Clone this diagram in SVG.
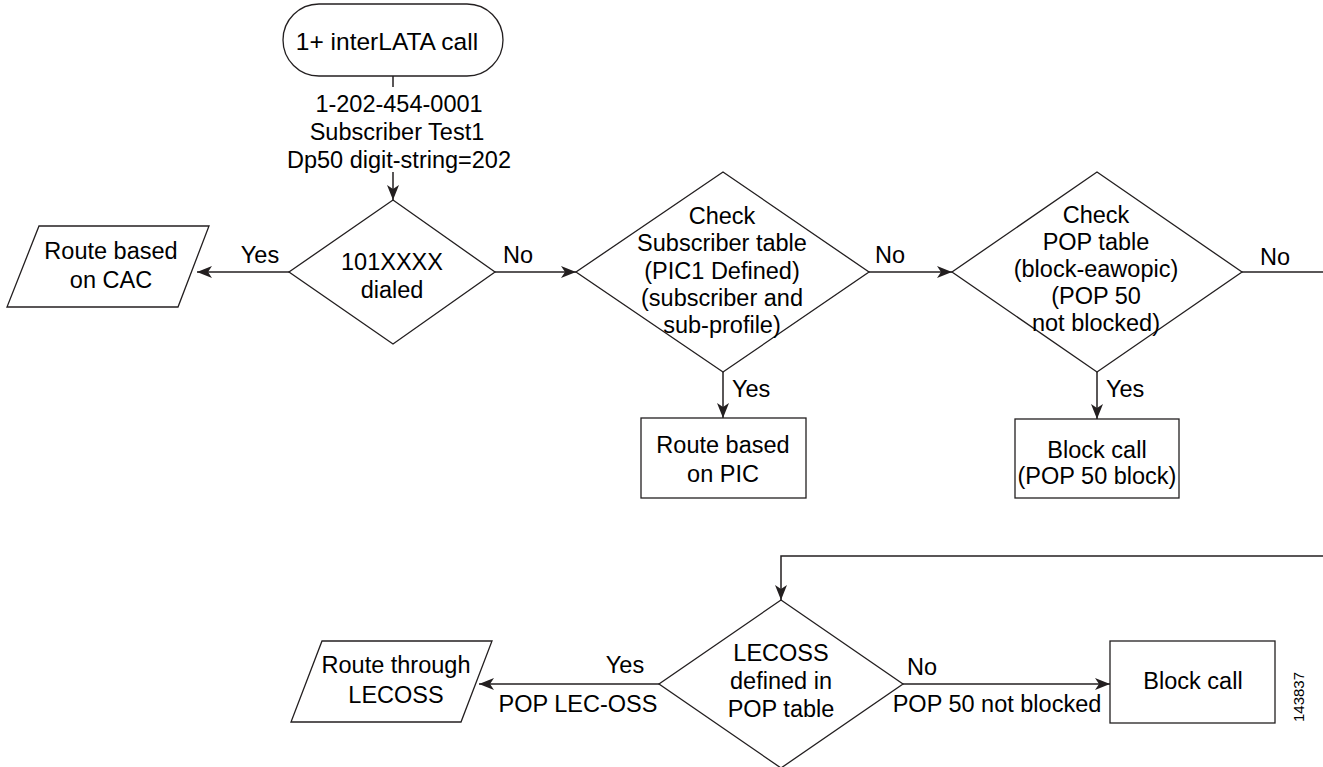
<svg xmlns="http://www.w3.org/2000/svg" width="1323" height="767" viewBox="0 0 1323 767">
<defs>
<style>
.s{fill:#fff;stroke:#231f20;stroke-width:1.3}
.c{fill:none;stroke:#231f20;stroke-width:1.5}
text{font-family:"Liberation Sans",Arial,Helvetica,sans-serif;font-size:23.5px;fill:#000}
.m{text-anchor:middle}
</style>
<marker id="a" markerUnits="userSpaceOnUse" markerWidth="16" markerHeight="12" refX="15" refY="6" orient="auto">
<path d="M0,0 L15,6 L0,12 L4,6 Z" fill="#231f20"/>
</marker>
</defs>
<g id="connectors">
<line class="c" x1="393" y1="76" x2="393" y2="87"/>
<line class="c" x1="393" y1="172" x2="393" y2="200" marker-end="url(#a)"/>
<line class="c" x1="289" y1="272" x2="197" y2="272" marker-end="url(#a)"/>
<line class="c" x1="495" y1="272" x2="576" y2="272" marker-end="url(#a)"/>
<line class="c" x1="869" y1="272" x2="952" y2="272" marker-end="url(#a)"/>
<line class="c" x1="723" y1="372" x2="723" y2="418" marker-end="url(#a)"/>
<line class="c" x1="1097" y1="372" x2="1097" y2="419" marker-end="url(#a)"/>
<line class="c" x1="1242" y1="272" x2="1323" y2="272"/>
<polyline class="c" points="1323,556 781,556 781,600" marker-end="url(#a)"/>
<line class="c" x1="659" y1="684" x2="479" y2="684" marker-end="url(#a)"/>
<line class="c" x1="903" y1="684" x2="1110" y2="684" marker-end="url(#a)"/>
<text class="m" x="260" y="263">Yes</text>
<text class="m" x="518" y="263">No</text>
<text class="m" x="890" y="263">No</text>
<text class="m" x="1275" y="265">No</text>
<text x="732" y="397">Yes</text>
<text x="1106" y="397">Yes</text>
<text class="m" x="625" y="673">Yes</text>
<text class="m" x="578" y="712">POP LEC-OSS</text>
<text class="m" x="922" y="675">No</text>
<text class="m" x="997" y="712">POP 50 not blocked</text>
<text class="m" x="399" y="112">1-202-454-0001</text>
<text class="m" x="397" y="140">Subscriber Test1</text>
<text class="m" x="399" y="168">Dp50 digit-string=202</text>
</g>
<g id="start">
<rect class="s" x="283" y="4" width="220" height="72" rx="36" ry="36"/>
<text class="m" x="387" y="50" style="font-size:24.5px">1+ interLATA call</text>
</g>
<g id="d1">
<polygon class="s" points="393,200 495,272 393,344 289,272"/>
<text class="m" x="392" y="270">101XXXX</text>
<text class="m" x="392" y="298">dialed</text>
</g>
<g id="cac">
<polygon class="s" points="39,226 209,226 178,307 7,307"/>
<text class="m" x="111" y="259">Route based</text>
<text class="m" x="111" y="288">on CAC</text>
</g>
<g id="d2">
<polygon class="s" points="723,172 869,272 723,372 576,272"/>
<text class="m" x="722" y="224">Check</text>
<text class="m" x="722" y="251">Subscriber table</text>
<text class="m" x="722" y="279">(PIC1 Defined)</text>
<text class="m" x="722" y="306">(subscriber and</text>
<text class="m" x="722" y="333">sub-profile)</text>
</g>
<g id="pic">
<rect class="s" x="641" y="418" width="165" height="80"/>
<text class="m" x="723" y="453">Route based</text>
<text class="m" x="723" y="482">on PIC</text>
</g>
<g id="d3">
<polygon class="s" points="1097,172 1242,272 1097,372 952,272"/>
<text class="m" x="1096" y="223">Check</text>
<text class="m" x="1096" y="250">POP table</text>
<text class="m" x="1096" y="277">(block-eawopic)</text>
<text class="m" x="1096" y="304">(POP 50</text>
<text class="m" x="1096" y="331">not blocked)</text>
</g>
<g id="block1">
<rect class="s" x="1015" y="419" width="164" height="79"/>
<text class="m" x="1097" y="458">Block call</text>
<text class="m" x="1097" y="484">(POP 50 block)</text>
</g>
<g id="d4">
<polygon class="s" points="781,600 903,684 781,768 659,684"/>
<text class="m" x="781" y="661">LECOSS</text>
<text class="m" x="781" y="689">defined in</text>
<text class="m" x="781" y="717">POP table</text>
</g>
<g id="lecoss">
<polygon class="s" points="322,641 492,641 461,722 291,722"/>
<text class="m" x="396" y="673">Route through</text>
<text class="m" x="396" y="703">LECOSS</text>
</g>
<g id="block2">
<rect class="s" x="1110" y="641" width="165" height="82"/>
<text class="m" x="1193" y="689">Block call</text>
</g>
<text x="1304" y="697" text-anchor="middle" style="font-size:15px" transform="rotate(-90 1304 697)">143837</text>
</svg>
